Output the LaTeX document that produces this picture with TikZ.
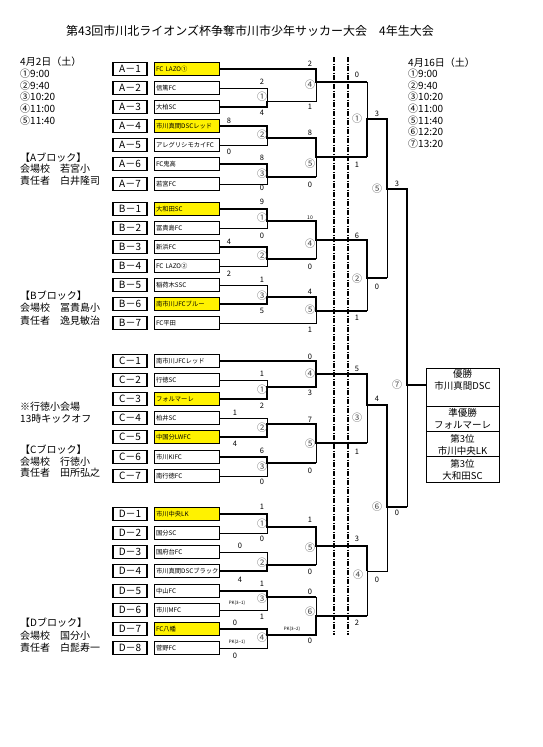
\documentclass[tikz,border=0pt]{standalone}
\usepackage{fontspec}
\setmainfont{Noto Sans CJK JP}
\tikzset{
  win/.style={line width=2.4pt},
  lose/.style={line width=0.7pt},
  split/.style={line width=1.4pt,dash pattern=on 5pt off 1.5pt on 1pt off 1.5pt},
  lbl/.style={draw,line width=1.1pt,minimum width=34pt,minimum height=13pt,inner sep=0pt,font=\fontsize{10}{10}\selectfont},
  team/.style={draw,line width=0.8pt,minimum height=13pt,text width=61pt,inner sep=2pt,align=left,font=\fontsize{6.3}{6.3}\selectfont},
  pick/.style={team,fill=yellow},
  score/.style={inner sep=0pt,font=\fontsize{7.5}{7.5}\selectfont},
  game/.style={inner sep=0pt,text=black!70,font=\fontsize{10}{10}\selectfont},
  info/.style={anchor=west,inner sep=0pt,font=\fontsize{10}{10}\selectfont},
  pk/.style={inner sep=0pt,font=\fontsize{4.5}{5}\selectfont},
  rank/.style={draw,line width=0.8pt,minimum width=73pt,inner sep=0pt},
  ranktext/.style={align=center,inner sep=0pt,font=\fontsize{9.5}{12}\selectfont},
}
\begin{document}
\begin{tikzpicture}[x=1pt,y=-1pt]
  \useasboundingbox (0,0) rectangle (542,747);
  % texts
  \node at(250,31)(title){\fontsize{12}{12}\selectfont 第43回市川北ライオンズ杯争奪市川市少年サッカー大会　4年生大会};
  \node[info] at(20,62)(d1){4月2日（土）};
  \node[info] at(20,74)(d1t1){①9:00};
  \node[info] at(20,86)(d1t2){②9:40};
  \node[info] at(20,97)(d1t3){③10:20};
  \node[info] at(20,109)(d1t4){④11:00};
  \node[info] at(20,121)(d1t5){⑤11:40};
  \node[info] at(408,63)(d2){4月16日（土）};
  \node[info] at(408,74)(d2t1){①9:00};
  \node[info] at(408,86)(d2t2){②9:40};
  \node[info] at(408,97)(d2t3){③10:20};
  \node[info] at(408,109)(d2t4){④11:00};
  \node[info] at(408,121)(d2t5){⑤11:40};
  \node[info] at(408,132)(d2t6){⑥12:20};
  \node[info] at(408,144)(d2t7){⑦13:20};
  \node[info] at(20,158)(ablk){【Aブロック】};
  \node[info] at(20,169)(aven){会場校　若宮小};
  \node[info] at(20,181)(aref){責任者　白井隆司};
  \node[info] at(20,296)(bblk){【Bブロック】};
  \node[info] at(20,308)(bven){会場校　冨貴島小};
  \node[info] at(20,321)(bref){責任者　逸見敏治};
  \node[info] at(20,407)(cnote){※行徳小会場};
  \node[info] at(20,419)(ckick){13時キックオフ};
  \node[info] at(20,450)(cblk){【Cブロック】};
  \node[info] at(20,462)(cven){会場校　行徳小};
  \node[info] at(20,473)(cref){責任者　田所弘之};
  \node[info] at(20,623)(dblk){【Dブロック】};
  \node[info] at(20,636)(dven){会場校　国分小};
  \node[info] at(20,648)(dref){責任者　白髭寿一};
  % A block boxes
  \node[lbl] at(130,69)(la1){A－1};   \node[pick] at(186.5,69)(a1){FC LAZO①};
  \node[lbl] at(130,88)(la2){A－2};   \node[team] at(186.5,88)(a2){信篤FC};
  \node[lbl] at(130,107)(la3){A－3};  \node[team] at(186.5,107)(a3){大柏SC};
  \node[lbl] at(130,126)(la4){A－4};  \node[pick] at(186.5,126)(a4){市川真間DSCレッド};
  \node[lbl] at(130,145)(la5){A－5};  \node[team] at(186.5,145)(a5){アレグリシモカイFC};
  \node[lbl] at(130,164)(la6){A－6};  \node[team] at(186.5,164)(a6){FC鬼高};
  \node[lbl] at(130,184)(la7){A－7};  \node[team] at(186.5,184)(a7){若宮FC};
  % B block boxes
  \node[lbl] at(130,209)(lb1){B－1};  \node[pick] at(186.5,209)(b1){大和田SC};
  \node[lbl] at(130,228)(lb2){B－2};  \node[team] at(186.5,228)(b2){冨貴島FC};
  \node[lbl] at(130,247)(lb3){B－3};  \node[team] at(186.5,247)(b3){新浜FC};
  \node[lbl] at(130,266)(lb4){B－4};  \node[team] at(186.5,266)(b4){FC LAZO②};
  \node[lbl] at(130,285)(lb5){B－5};  \node[team] at(186.5,285)(b5){稲荷木SSC};
  \node[lbl] at(130,304)(lb6){B－6};  \node[pick] at(186.5,304)(b6){南市川JFCブルー};
  \node[lbl] at(130,323)(lb7){B－7};  \node[team] at(186.5,323)(b7){FC平田};
  % C block boxes
  \node[lbl] at(130,361)(lc1){C－1};  \node[team] at(186.5,361)(c1){南市川JFCレッド};
  \node[lbl] at(130,380)(lc2){C－2};  \node[team] at(186.5,380)(c2){行徳SC};
  \node[lbl] at(130,399)(lc3){C－3};  \node[pick] at(186.5,399)(c3){フォルマーレ};
  \node[lbl] at(130,418)(lc4){C－4};  \node[team] at(186.5,418)(c4){柏井SC};
  \node[lbl] at(130,437)(lc5){C－5};  \node[pick] at(186.5,437)(c5){中国分LWFC};
  \node[lbl] at(130,457)(lc6){C－6};  \node[team] at(186.5,457)(c6){市川KIFC};
  \node[lbl] at(130,476)(lc7){C－7};  \node[team] at(186.5,476)(c7){南行徳FC};
  % D block boxes
  \node[lbl] at(130,514)(ld1){D－1};  \node[pick] at(186.5,514)(d1b){市川中央LK};
  \node[lbl] at(130,533)(ld2){D－2};  \node[team] at(186.5,533)(d2b){国分SC};
  \node[lbl] at(130,552)(ld3){D－3};  \node[team] at(186.5,552)(d3b){国府台FC};
  \node[lbl] at(130,571)(ld4){D－4};  \node[team] at(186.5,571)(d4b){市川真間DSCブラック};
  \node[lbl] at(130,591)(ld5){D－5};  \node[team] at(186.5,591)(d5b){中山FC};
  \node[lbl] at(130,610)(ld6){D－6};  \node[team] at(186.5,610)(d6b){市川MFC};
  \node[lbl] at(130,629)(ld7){D－7};  \node[pick] at(186.5,629)(d7b){FC八幡};
  \node[lbl] at(130,648)(ld8){D－8};  \node[team] at(186.5,648)(d8b){菅野FC};
  % day split
  \draw[split] (334,57) -- (334,635);
  \draw[split] (348,57) -- (348,635);
  % A block lines
  \draw[lose] (a2.east) -- (267,88) -- (267,101) -- (316,101) -- (316,82);
  \draw[win] (a3.east) -- (267,107) -- (267,101);
  \draw[win] (a1.east) -- (316,69) -- (316,82) -- (367,82);
  \draw[lose] (a5.east) -- (267,145) -- (267,138);
  \draw[win] (a4.east) -- (267,126) -- (267,138) -- (316,138) -- (316,157) -- (367,157);
  \draw[lose] (a7.east) -- (267,184) -- (267,177);
  \draw[win] (a6.east) -- (267,164) -- (267,177) -- (316,177);
  \draw[lose] (316,177) -- (316,157);
  \draw[lose] (367,82) -- (367,119);
  \draw[lose] (387,189) -- (387,278);
  \draw[lose] (407,385) -- (407,507);
  \draw[win] (367,157) -- (367,119) -- (387,119) -- (387,189) -- (407,189) -- (407,385) -- (426,385);
  % B block lines
  \draw[lose] (b2.east) -- (267,228) -- (267,221);
  \draw[win] (b1.east) -- (267,209) -- (267,221) -- (316,221) -- (316,240) -- (367,240) -- (367,278) -- (387,278);
  \draw[lose] (b4.east) -- (267,266) -- (267,259);
  \draw[win] (b3.east) -- (267,247) -- (267,259) -- (316,259);
  \draw[lose] (316,259) -- (316,240);
  \draw[lose] (b5.east) -- (267,285) -- (267,297);
  \draw[win] (b6.east) -- (267,304) -- (267,297) -- (316,297) -- (316,311) -- (367,311);
  \draw[lose] (b7.east) -- (316,323) -- (316,311);
  \draw[lose] (367,311) -- (367,278);
  % C block lines
  \draw[lose] (c2.east) -- (267,380) -- (267,387);
  \draw[win] (c3.east) -- (267,399) -- (267,387) -- (316,387) -- (316,374);
  \draw[win] (c1.east) -- (316,361) -- (316,374) -- (367,374) -- (367,405) -- (387,405) -- (387,507) -- (407,507);
  \draw[lose] (c4.east) -- (267,418) -- (267,424);
  \draw[win] (c5.east) -- (267,437) -- (267,424) -- (316,424) -- (316,443) -- (367,443);
  \draw[lose] (c7.east) -- (267,476) -- (267,463);
  \draw[win] (c6.east) -- (267,457) -- (267,463) -- (316,463);
  \draw[lose] (316,463) -- (316,443);
  \draw[lose] (367,443) -- (367,405);
  % D block lines
  \draw[lose] (d2b.east) -- (267,533) -- (267,527);
  \draw[win] (d1b.east) -- (267,514) -- (267,527) -- (316,527) -- (316,546) -- (367,546) -- (367,571);
  \draw[lose] (d3b.east) -- (267,552) -- (267,565);
  \draw[win] (d4b.east) -- (267,571) -- (267,565) -- (316,565);
  \draw[lose] (316,565) -- (316,546);
  \draw[lose] (d6b.east) -- (267,610) -- (267,597);
  \draw[win] (d5b.east) -- (267,591) -- (267,597) -- (316,597);
  \draw[lose] (316,597) -- (316,616);
  \draw[lose] (d8b.east) -- (267,648) -- (267,635);
  \draw[win] (d7b.east) -- (267,629) -- (267,635) -- (316,635) -- (316,616) -- (367,616);
  \draw[lose] (367,616) -- (367,571) -- (387,571) -- (387,507);
  % match numbers
  \node[game] at(262,97)(ga1){①};  \node[game] at(262,135)(ga2){②};
  \node[game] at(262,174)(ga3){③};  \node[game] at(310,85)(ga4){④};
  \node[game] at(310,164)(ga5){⑤};
  \node[game] at(262,218)(gb1){①};  \node[game] at(262,256)(gb2){②};
  \node[game] at(262,296)(gb3){③};  \node[game] at(310,244)(gb4){④};
  \node[game] at(310,310)(gb5){⑤};
  \node[game] at(262,390)(gc1){①};  \node[game] at(262,428)(gc2){②};
  \node[game] at(262,467)(gc3){③};  \node[game] at(310,374)(gc4){④};
  \node[game] at(310,444)(gc5){⑤};
  \node[game] at(262,524)(gd1){①};  \node[game] at(262,563)(gd2){②};
  \node[game] at(262,599)(gd3){③};  \node[game] at(262,638)(gd4){④};
  \node[game] at(310,548)(gd5){⑤};  \node[game] at(310,612)(gd6){⑥};
  \node[game] at(357,119)(g1){①};  \node[game] at(357,279)(g2){②};
  \node[game] at(357,418)(g3){③};  \node[game] at(358,575)(g4){④};
  \node[game] at(377,189)(g5){⑤};  \node[game] at(377,507)(g6){⑥};
  \node[game] at(397,385)(g7){⑦};
  % scores A
  \node[score] at(262,82)(sa1t){2};   \node[score] at(262,113)(sa1b){4};
  \node[score] at(229,121)(sa2t){8};  \node[score] at(229,152)(sa2b){0};
  \node[score] at(262,158)(sa3t){8};  \node[score] at(262,188)(sa3b){0};
  \node[score] at(310,64)(sa4t){2};   \node[score] at(310,107)(sa4b){1};
  \node[score] at(310,133)(sa5t){8};  \node[score] at(310,185)(sa5b){0};
  \node[score] at(357,75)(s1t){0};    \node[score] at(357,165)(s1b){1};
  \node[score] at(377,114)(s5t){3};   \node[score] at(377,287)(s5b){0};
  \node[score] at(397,184)(s7t){3};   \node[score] at(397,513)(s7b){0};
  % scores B
  \node[score] at(262,202)(sb1t){9};  \node[score] at(262,236)(sb1b){0};
  \node[score] at(229,242)(sb2t){4};  \node[score] at(229,274)(sb2b){2};
  \node[score] at(262,280)(sb3t){1};  \node[score] at(262,311)(sb3b){5};
  \node[score,font=\fontsize{5}{5}\selectfont] at(310,218)(sb4t){10};
  \node[score] at(310,267)(sb4b){0};
  \node[score] at(310,292)(sb5t){4};  \node[score] at(310,330)(sb5b){1};
  \node[score] at(357,236)(s2t){6};   \node[score] at(357,318)(s2b){1};
  % scores C
  \node[score] at(262,374)(sc1t){1};  \node[score] at(262,406)(sc1b){2};
  \node[score] at(235,413)(sc2t){1};  \node[score] at(235,444)(sc2b){4};
  \node[score] at(262,451)(sc3t){6};  \node[score] at(262,482)(sc3b){0};
  \node[score] at(310,357)(sc4t){0};  \node[score] at(310,393)(sc4b){3};
  \node[score] at(310,420)(sc5t){7};  \node[score] at(310,471)(sc5b){0};
  \node[score] at(357,369)(s3t){5};   \node[score] at(357,452)(s3b){1};
  \node[score] at(377,399)(s6t){4};   \node[score] at(377,580)(s6b){0};
  % scores D
  \node[score] at(262,507)(sd1t){1};  \node[score] at(262,539)(sd1b){0};
  \node[score] at(240,546)(sd2t){0};  \node[score] at(240,580)(sd2b){4};
  \node[score] at(262,584)(sd3t){1};  \node[score] at(262,617)(sd3b){1};
  \node[pk] at(237,603)(pkd3){PK(3−1)};
  \node[score] at(235,623)(sd4t){0};  \node[score] at(235,656)(sd4b){0};
  \node[pk] at(237,642)(pkd4){PK(2−1)};
  \node[score] at(310,520)(sd5t){1};  \node[score] at(310,572)(sd5b){0};
  \node[score] at(310,592)(sd6t){0};  \node[score] at(310,641)(sd6b){0};
  \node[pk] at(292,629)(pkd6){PK(3−2)};
  \node[score] at(357,539)(s4t){3};   \node[score] at(357,623)(s4b){2};
  % final ranking
  \node[rank,minimum height=38pt,anchor=north] at(462.5,368)(r1){};
  \node[rank,minimum height=25pt,anchor=north] at(462.5,406)(r2){};
  \node[rank,minimum height=25pt,anchor=north] at(462.5,431)(r3){};
  \node[rank,minimum height=26pt,anchor=north] at(462.5,456)(r4){};
  \node[ranktext] at(462.5,380)(t1){優勝\\市川真間DSC};
  \node[ranktext] at(462.5,419)(t2){準優勝\\フォルマーレ};
  \node[ranktext] at(462.5,444.5)(t3){第3位\\市川中央LK};
  \node[ranktext] at(462.5,470)(t4){第3位\\大和田SC};
\end{tikzpicture}
\end{document}
